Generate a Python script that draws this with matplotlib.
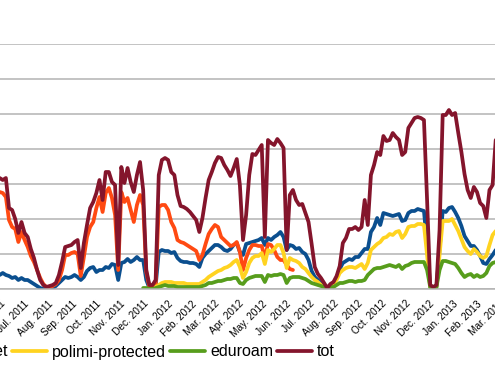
import numpy as np
import pandas as pd
import matplotlib
matplotlib.use("Agg")
import matplotlib.pyplot as plt
import matplotlib.dates as mdates
from datetime import datetime

plt.rcParams['font.family'] = ['Liberation Sans', 'DejaVu Sans']

# ---------------- data (sampled every 4 days) ----------------
dates = pd.date_range('2011-05-31', periods=160, freq='4D')
NA = np.nan

polimi = [14,16,14,13,11,12,9,11,9,9, 7,5,3,1,0,0,0,1,3,6,
          9,12,11,12,14,12,9,12,18,21, 22,17,19,19,22,21,25,24,9,26,
          27,30,27,29,32,29,29,9,1,1, 3,37,39,38,38,36,37,31,28,27,
          27,26,26,25,22,31,35,38,41,44, 44,42,39,38,40,44,46,37,34,45,
          46,47,48,49,51,44,51,49,52,54, 57,52,39,44,43,40,41,37,35,29,
          18,12,9,6,4,1,3,6,11,20, 26,28,30,29,32,32,36,40,40,57,
          62,71,64,76,75,74,73,74,75,68, 69,76,78,78,80,79,78,44,2,1,
          2,39,78,77,81,82,77,71,63,53, 48,43,43,39,33,26,25,30,34,39]

internet = [97,96,92,69,62,60,47,57,49,42, 33,27,19,11,5,2,2,3,5,9,
            19,34,34,36,37,35,13,32,52,62, 67,81,92,77,96,101,91,74,19,97,
            87,91,79,67,84,94,84,17,2,2, 4,82,84,84,79,67,61,49,47,46,
            44,42,40,38,29,34,45,55,60,64, 62,52,49,46,43,44,47,37,19,31,
            39,44,44,43,43,31,45,44,39,32, 29,29,24,20,19] + [NA] * 65

protected = [NA] * 50 + [
            2,4,6,7,7,7,6,6,6,6, 5,5,5,5,5,7,9,12,14,16,
            18,19,21,22,24,27,29,22,11,17, 26,31,33,33,36,25,39,37,40,44,
            44,36,21,31,29,28,26,22,20,16, 12,9,7,4,2,1,3,5,9,16,
            19,21,22,22,21,23,25,20,26,39, 42,45,47,51,52,55,54,57,58,51,
            55,62,63,63,65,65,64,34,2,1, 2,34,68,68,68,70,64,58,50,42,
            38,35,40,37,33,31,33,44,54,58]

eduroam = [NA] * 46 + [1,1,0,0,
            1,2,3,4,3,3,3,2,2,2, 2,2,2,2,2,3,4,6,6,7,
            8,8,9,10,10,11,11,6,5,9, 11,12,13,13,13,7,14,13,14,14,
            15,14,6,11,12,12,12,11,10,8, 6,5,4,3,2,1,2,2,4,6,
            6,7,8,8,7,8,8,9,14,17, 20,21,21,22,23,24,23,22,24,20,
            23,24,26,27,27,27,27,19,2,1, 2,19,28,28,27,26,25,21,16,12,
            14,15,12,14,12,13,16,23,26,27]

tot = [111,109,111,81,79,70,56,67,56,52, 40,31,19,9,4,2,3,4,6,14,
       27,42,43,44,47,49,21,46,64,81, 87,96,109,89,117,117,107,104,24,122,
       106,121,107,97,114,127,99,19,4,4, 9,114,129,131,129,117,114,94,83,82,
       80,77,73,69,57,71,91,109,117,126, 132,131,124,119,113,121,130,104,49,74,
       114,135,134,139,144,52,149,146,144,150, 146,141,39,94,99,89,84,85,76,67,
       45,22,15,11,6,1,5,7,13,23, 46,51,60,60,62,59,62,89,64,114,
       124,137,134,153,148,149,156,152,149,134, 137,161,166,171,172,171,169,89,4,2,
       4,59,174,174,179,174,176,156,137,115, 99,91,102,97,86,83,71,99,104,149]

series_names = ['polimi', 'internet', 'polimi-protected', 'eduroam', 'tot']
series_values = [polimi, internet, protected, eduroam, tot]
series_colors = ['#0b4f8f', '#ff4a12', '#ffd320', '#579d1c', '#84152c']

month_ticks = pd.date_range('2011-06-01', '2013-03-01', freq='MS')
month_labels = [d.strftime('%b. %Y') for d in month_ticks]

# ---------------- figure ----------------
W, H = 495, 384
fig = plt.figure(figsize=(W / 100, H / 100), dpi=100)
ax_left, ax_right, ax_top, ax_bottom = 0, 520, 44, 289
ax = fig.add_axes([ax_left / W, (H - ax_bottom) / H,
                   (ax_right - ax_left) / W, (ax_bottom - ax_top) / H])

ref = mdates.date2num(datetime(2011, 8, 1))
ppd = 0.78  # pixels per day
ref_px = 48
ax.set_xlim(ref - (ref_px - ax_left) / ppd, ref + (ax_right - ref_px) / ppd)
ax.set_ylim(0, 245)

lines = []
for name, vals, col in zip(series_names, series_values, series_colors):
    ln, = ax.plot(dates, np.array(vals, dtype=float), color=col, lw=2.7,
                  label=name, solid_joinstyle='round', solid_capstyle='round')
    lines.append(ln)

ax.set_yticks(np.arange(0, 246, 35))
ax.yaxis.grid(True, color='#b3b3b3', lw=1.1)
ax.set_axisbelow(True)
ax.tick_params(axis='y', left=False, labelleft=False)
for s in ['top', 'right', 'left']:
    ax.spines[s].set_visible(False)
ax.spines['bottom'].set_color('#b3b3b3')
ax.spines['bottom'].set_linewidth(1.1)

ax.set_xticks(month_ticks, month_labels, rotation=45, ha='right',
              rotation_mode='anchor', fontsize=7.3)
ax.tick_params(axis='x', length=0, pad=7)

fig.legend(lines, series_names, loc='center right',
           bbox_to_anchor=(335 / W, 1 - 352 / H), ncol=5, frameon=False,
           fontsize=11.5, handlelength=2.2, handletextpad=0.3,
           columnspacing=0.25, borderpad=0, borderaxespad=0)

fig.savefig('out.png', dpi=100)
